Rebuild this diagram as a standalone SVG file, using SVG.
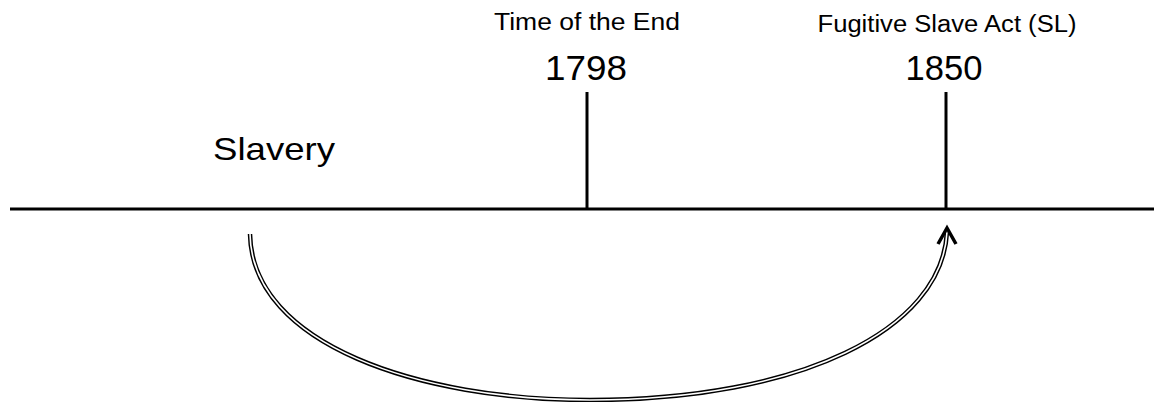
<svg xmlns="http://www.w3.org/2000/svg" width="1154" height="402" viewBox="0 0 1154 402">
<style>
.t{font-family:"Liberation Sans",Arial,sans-serif;fill:#000}
.ln{stroke:#000;stroke-width:3;fill:none}
</style>
<rect width="1154" height="402" fill="#fff"/>
<g id="axis">
<line class="ln" x1="10" y1="209" x2="1154" y2="209"/>
</g>
<g id="node-1798">
<line class="ln" x1="587" y1="92" x2="587" y2="209"/>
<text class="t" x="587" y="30" font-size="23" text-anchor="middle" textLength="186" lengthAdjust="spacingAndGlyphs">Time of the End</text>
<text class="t" x="586" y="80" font-size="35" text-anchor="middle" textLength="82" lengthAdjust="spacingAndGlyphs">1798</text>
</g>
<g id="node-1850">
<line class="ln" x1="946" y1="92" x2="946" y2="209"/>
<text class="t" x="947" y="32" font-size="23" text-anchor="middle" textLength="259" lengthAdjust="spacingAndGlyphs">Fugitive Slave Act (SL)</text>
<text class="t" x="944" y="80" font-size="35" text-anchor="middle" textLength="77" lengthAdjust="spacingAndGlyphs">1850</text>
</g>
<g id="node-slavery">
<text class="t" x="213" y="160" font-size="32" textLength="122" lengthAdjust="spacingAndGlyphs">Slavery</text>
</g>
<g id="connectors">
<path d="M 250 234 C 252 345, 420 400, 590 400 C 800 400, 942 330, 947 232" fill="none" stroke="#000" stroke-width="4.5"/>
<path d="M 250 234 C 252 345, 420 400, 590 400 C 800 400, 942 330, 947 232" fill="none" stroke="#fff" stroke-width="1.6"/>
<polyline points="938,244 947,228 956,244" fill="none" stroke="#000" stroke-width="3.5"/>
</g>
</svg>
